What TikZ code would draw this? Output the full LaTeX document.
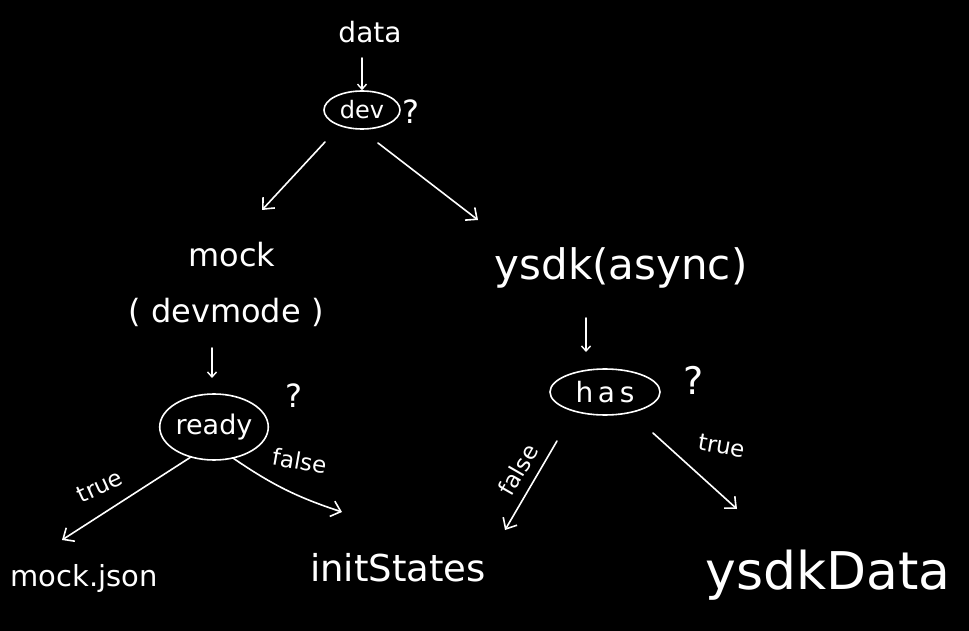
\documentclass[tikz,border=0pt]{standalone}
\usepackage{fontspec}
\setmainfont{DejaVu Sans}
\usetikzlibrary{arrows.meta,shapes.geometric}
\begin{document}
\begin{tikzpicture}[x=1pt,y=-1pt,
  ink/.style={draw=white,line width=1.6pt,line cap=round,line join=round},
  conn/.style={ink,-{Straight Barb[length=9pt,width=16pt,line width=1.6pt]}},
  small/.style={ink,-{Straight Barb[length=5pt,width=9pt,line width=1.4pt]}},
  txt/.style={text=white,inner sep=1pt},
  oval/.style={ellipse,ink,text=white,inner sep=0pt},
  lbl/.style={text=white,font=\fontsize{23}{23}\selectfont,inner sep=0pt}]
\fill[black] (0,0) rectangle (969,631);
\useasboundingbox (0,0) rectangle (969,631);

% top
\node[txt,font=\fontsize{28}{28}\selectfont] (data) at (370,32) {data};
\node[oval,minimum width=76pt,minimum height=38pt,font=\fontsize{24}{24}\selectfont] (dev) at (362,110) {dev};
\node[txt,font=\fontsize{32}{32}\selectfont] (q1) at (411,112) {?};
\coordinate (d0) at (362,58);
\draw[small] (d0) -- (dev.north);

% left branch
\node[txt,font=\fontsize{32}{32}\selectfont] (mock) at (232,255) {mock};
\node[txt,font=\fontsize{32}{32}\selectfont] (devmode) at (226,312) {(\,\,devmode\,\,)};
\coordinate (l0) at (325,142);
\coordinate (lt) at (262,210);
\draw[conn] (l0) -- (lt);

\node[oval,minimum width=108pt,minimum height=66pt,font=\fontsize{27}{27}\selectfont] (ready) at (214,427) {ready};
\node[txt,font=\fontsize{32}{32}\selectfont] (q2) at (294,396) {?};
\coordinate (r0) at (212,348);
\draw[small] (r0) -- (212,378) coordinate (r1);

\node[txt,font=\fontsize{29}{29}\selectfont] (mockjson) at (84,578) {mock.json};
\node[txt,font=\fontsize{37}{37}\selectfont] (init) at (398,568) {initStates};
\draw[conn] (ready.-128) -- (62,540) coordinate (mj);
\draw[conn] (ready.-58) to[bend right=8] (342,512) coordinate (is);
\node[lbl,rotate=25] (t1) at (100,486) {true};
\node[lbl,rotate=-10] (f1) at (300,461) {false};

% right branch
\coordinate (r2) at (378,143);
\coordinate (rt) at (478,220);
\draw[conn] (r2) -- (rt);
\node[txt,font=\fontsize{42}{42}\selectfont] (ysdk) at (621,268) {ysdk(async)};
\node[oval,minimum width=110pt,minimum height=46pt,font=\fontsize{28}{28}\selectfont] (has) at (605,392) {h\,a\,s};
\node[txt,font=\fontsize{38}{38}\selectfont] (q3) at (694,380) {?};
\coordinate (h0) at (586,318);
\draw[small] (h0) -- (586,352) coordinate (h1);

\node[txt,font=\fontsize{52}{52}\selectfont] (ydata) at (828,575) {ysdkData};
\draw[conn] (557,441) coordinate (fa) -- (505,530) coordinate (fb);
\draw[conn] (653,433) coordinate (ta) -- (737,509) coordinate (tb);
\node[lbl,rotate=60] (f2) at (518,470) {false};
\node[lbl,rotate=-10] (t2) at (722,446) {true};
\end{tikzpicture}
\end{document}
